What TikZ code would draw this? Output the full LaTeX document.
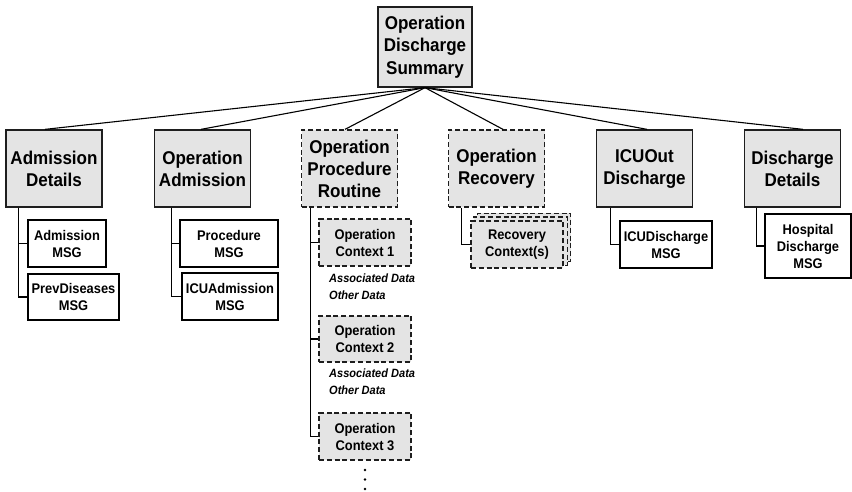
\documentclass[tikz,border=0pt]{standalone}
\usepackage{fontspec}
\setmainfont[FakeStretch=0.92]{Liberation Sans}
\usetikzlibrary{calc,backgrounds}
\definecolor{boxgray}{RGB}{228,228,228}
\definecolor{edge}{RGB}{30,30,30}
\tikzset{
  topbox/.style={draw=edge, line width=1.3pt, fill=boxgray, inner sep=0pt, align=center,
    font=\bfseries\fontsize{18.5}{22.5}\selectfont, minimum width=94pt, minimum height=80pt},
  lvbox/.style={draw=edge, line width=1.3pt, fill=boxgray, inner sep=0pt, align=center,
    font=\bfseries\fontsize{18.5}{22}\selectfont, minimum width=96pt, minimum height=77pt},
  dashbox/.style={dash pattern=on 5pt off 2.8pt},
  msgbox/.style={draw=black, line width=1.4pt, fill=white, inner sep=0pt, align=center,
    font=\bfseries\fontsize{14}{17}\selectfont, minimum height=47pt},
  ctxbox/.style={draw=edge, line width=1.3pt, fill=boxgray, dash pattern=on 5pt off 2.8pt,
    inner sep=0pt, align=center, font=\bfseries\fontsize{14}{17}\selectfont,
    minimum width=92pt, minimum height=47pt},
  ital/.style={inner sep=0pt, align=left, anchor=west,
    font=\bfseries\itshape\fontsize{12}{17}\selectfont},
  link/.style={draw=black, line width=1.1pt},
}
\begin{document}
\begin{tikzpicture}[x=1pt, y=-1pt]
\useasboundingbox (0,0) rectangle (852,491);

% top
\node[topbox] (top) at (425,47) {Operation\\Discharge\\Summary};

% level 1
\node[lvbox] (ad)  at (54,168.5)    {Admission\\Details};
\node[lvbox] (oa)  at (202.5,168.5) {Operation\\Admission};
\node[lvbox, dashbox] (opr) at (349.5,168.5) {Operation\\Procedure\\Routine};
\node[lvbox, dashbox] (orc) at (496.5,168.5) {Operation\\Recovery};
\node[lvbox] (icu) at (644.5,168.5) {ICUOut\\Discharge};
\node[lvbox] (dd)  at (792.5,168.5) {Discharge\\Details};

\draw[link] (top.south) -- ([xshift=-9pt]ad.north);
\draw[link] (top.south) -- ([xshift=-1.5pt]oa.north);
\draw[link] (top.south) -- ([xshift=-4.5pt]opr.north);
\draw[link] (top.south) -- ([xshift=6.5pt]orc.north);
\draw[link] (top.south) -- ([xshift=2.5pt]icu.north);
\draw[link] (top.south) -- ([xshift=10.5pt]dd.north);

% children
\node[msgbox, minimum width=78pt] (am) at (67,243.5) {Admission\\MSG};
\node[msgbox, minimum width=91pt, minimum height=46pt] (pd) at (73.5,297) {PrevDiseases\\MSG};
\node[msgbox, minimum width=98pt] (pm) at (229,243.5) {Procedure\\MSG};
\node[msgbox, minimum width=96pt] (ia) at (230,296.5) {ICUAdmission\\MSG};

\node[ctxbox] (c1) at (365,242.5) {Operation\\Context 1};
\node[ital] (d1) at (329,286.5) {Associated Data\\Other Data};
\node[ctxbox, minimum height=46pt] (c2) at (365,339) {Operation\\Context 2};
\node[ital] (d2) at (329,382) {Associated Data\\Other Data};
\node[ctxbox] (c3) at (365,436.5) {Operation\\Context 3};
\fill (365,470) circle (1.3pt);
\fill (365,479.5) circle (1.3pt);
\fill (365,489) circle (1.3pt);

\node[ctxbox] (rc) at (517,244.5) {Recovery\\Context(s)};
\begin{scope}[on background layer]
  \draw[draw=edge, line width=1.3pt, fill=boxgray, dash pattern=on 5pt off 2.8pt]
    ([shift={(7,-7)}]rc.south west) rectangle ([shift={(7,-7)}]rc.north east);
  \draw[draw=edge, line width=1.3pt, fill=boxgray, dash pattern=on 5pt off 2.8pt]
    ([shift={(3.5,-3.5)}]rc.south west) rectangle ([shift={(3.5,-3.5)}]rc.north east);
\end{scope}

\node[msgbox, minimum width=92pt] (idm) at (666,244.5) {ICUDischarge\\MSG};
\node[msgbox, minimum width=86pt, minimum height=64pt] (hd) at (808,246) {Hospital\\Discharge\\MSG};

% tree connectors
\draw[link] ([xshift=13pt]ad.south west) |- (am.west);
\draw[link] ([xshift=13pt]ad.south west) |- (pd.west);
\draw[link] ([xshift=17.5pt]oa.south west) |- (pm.west);
\draw[link] ([xshift=17.5pt]oa.south west) |- (ia.west);
\draw[link] ([xshift=9.5pt]opr.south west) |- (c1.west);
\draw[link] ([xshift=9.5pt]opr.south west) |- (c2.west);
\draw[link] ([xshift=9.5pt]opr.south west) |- (c3.west);
\draw[link] ([xshift=14pt]orc.south west) |- (rc.west);
\draw[link] ([xshift=14.5pt]icu.south west) |- (idm.west);
\draw[link] ([xshift=12.5pt]dd.south west) |- (hd.west);
\end{tikzpicture}
\end{document}
